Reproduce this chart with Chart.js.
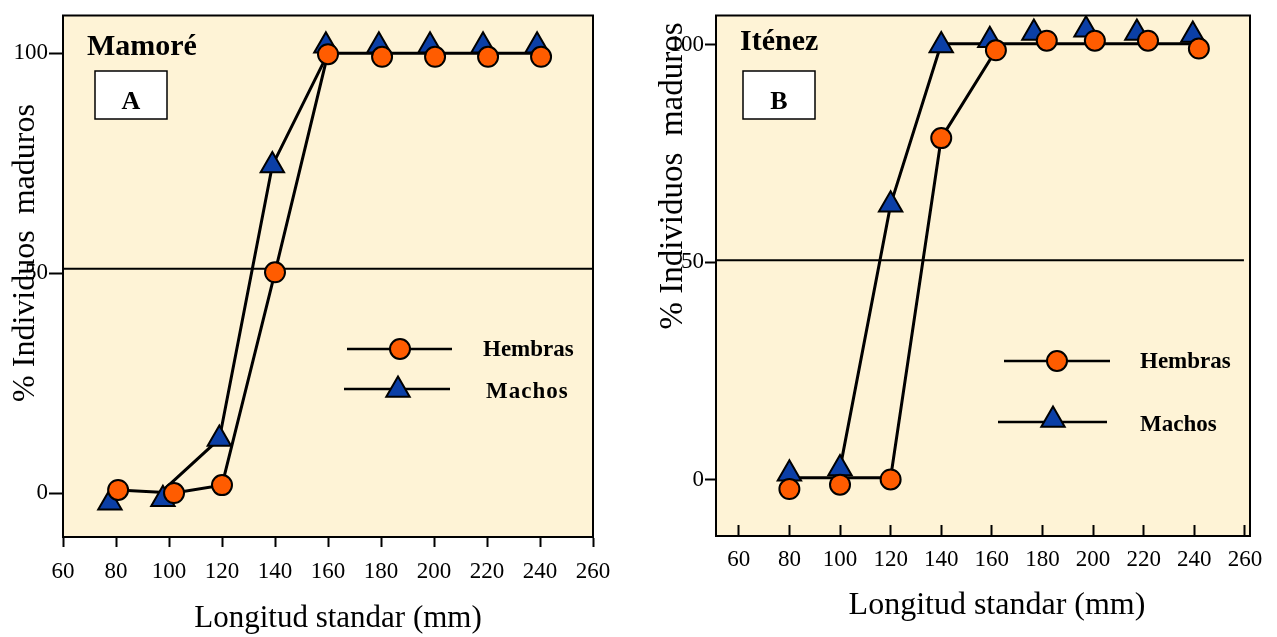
<!DOCTYPE html>
<html>
<head>
<meta charset="utf-8">
<script src="https://cdn.jsdelivr.net/npm/chart.js@4.4.1/dist/chart.umd.min.js"></script>
<style>
  html, body { margin: 0; padding: 0; background: #fff; }
  #wrap { position: relative; width: 1277px; height: 637px; }
  canvas { position: absolute; top: 0; }
</style>
</head>
<body>
<div id="wrap">
  <canvas id="chartA" width="640" height="637" style="left:0"></canvas>
  <canvas id="chartB" width="637" height="637" style="left:640px"></canvas>
</div>
<script>
const xTicks = [60, 80, 100, 120, 140, 160, 180, 200, 220, 240, 260];
const yTicks = [0, 50, 100];
const seriesNames = ['Hembras', 'Machos'];
const xTitle = 'Longitud standar (mm)';
const yTitle = '% Individuos  maduros';

// A - Mamoré
const aHembrasX = [80.8, 101.9, 120, 140, 160, 180.4, 200.4, 220.4, 240.4];
const aHembrasY = [0.7, 0, 1.8, 50.2, 99.8, 99.2, 99.2, 99.2, 99.2];
const aMachosX = [77.7, 97.7, 119, 139, 159.2, 179.2, 198.5, 218.5, 238.9];
const aMachosY = [-2.2, -1.4, 12.3, 74.5, 101.7, 101.7, 101.7, 101.7, 101.7];
const aLineHembrasX = [80.8, 101.9, 120, 140, 160, 240];
const aLineHembrasY = [0.7, 0, 1.8, 50.2, 100, 100];
const aLineMachosX = [98, 119, 139, 160];
const aLineMachosY = [0.7, 12.3, 74.5, 100];
const aRefY = 51;

// B - Iténez
const bHembrasX = [80, 100, 120, 140, 161.6, 181.7, 200.7, 221.7, 241.8];
const bHembrasY = [-2.2, -1.2, 0, 78.5, 98.7, 100.9, 100.9, 100.9, 99.1];
const bMachosX = [80, 100, 120, 140, 159.2, 176.6, 197.2, 217.3, 239.4];
const bMachosY = [1.3, 2.5, 63.2, 99.8, 101, 102.7, 103.4, 102.7, 102.2];
const bLineHembrasX = [80, 120, 140, 161.6];
const bLineHembrasY = [0.4, 0.4, 78.5, 98.7];
const bLineMachosX = [100, 120, 140, 238.3];
const bLineMachosY = [2.5, 63.2, 100.2, 100.2];
const bRefY = 50.4;

const serif = '"Liberation Serif", "Times New Roman", serif';
const cream = '#fef3d6';
const orange = '#ff5c00';
const blue = '#0b3fa6';

function pts(xs, ys) {
    return xs.map((x, i) => ({x: x, y: ys[i]}));
}

const decor = {
    id: 'decor',
    beforeDraw(chart, args, o) {
        const {ctx, chartArea: a} = chart;
        ctx.save();
        ctx.fillStyle = cream;
        ctx.fillRect(a.left, a.top, a.right - a.left, a.bottom - a.top);
        ctx.restore();
    },
    beforeDatasetsDraw(chart, args, o) {
        const {ctx, chartArea: a} = chart;
        ctx.save();
        ctx.strokeStyle = '#000';
        ctx.lineWidth = 2;
        ctx.strokeRect(a.left, a.top, a.right - a.left, a.bottom - a.top);

        ctx.fillStyle = '#000';
        ctx.font = 'bold 30px ' + serif;
        ctx.textBaseline = 'alphabetic';
        ctx.fillText(o.name, o.nameX, o.nameY);

        ctx.fillStyle = '#fff';
        ctx.fillRect(o.box[0], o.box[1], o.box[2], o.box[3]);
        ctx.lineWidth = 1.5;
        ctx.strokeRect(o.box[0], o.box[1], o.box[2], o.box[3]);
        ctx.fillStyle = '#000';
        ctx.font = 'bold 26px ' + serif;
        ctx.textAlign = 'center';
        ctx.fillText(o.letter, o.box[0] + o.box[2] / 2, o.box[1] + 38);

        // x axis title
        ctx.font = o.xTitleSize + 'px ' + serif;
        ctx.textBaseline = 'middle';
        ctx.fillText(xTitle, o.xTitleX, o.xTitleY);

        // y axis title
        ctx.translate(o.yTitleX, o.yTitleY);
        ctx.rotate(-Math.PI / 2);
        ctx.font = o.yTitleSize + 'px ' + serif;
        ctx.fillText(yTitle, 0, 0);
        ctx.restore();
    },
    afterDatasetsDraw(chart, args, o) {
        const ctx = chart.ctx;
        ctx.save();
        o.legend.forEach((item, i) => {
            ctx.strokeStyle = '#000';
            ctx.lineWidth = 2.5;
            ctx.beginPath();
            ctx.moveTo(item.x0, item.y);
            ctx.lineTo(item.x1, item.y);
            ctx.stroke();
            ctx.fillStyle = i === 0 ? orange : blue;
            ctx.lineWidth = 2;
            Chart.helpers.drawPoint(ctx, {
                pointStyle: i === 0 ? 'circle' : 'triangle',
                radius: i === 0 ? 10 : 13.5,
                rotation: 0,
                borderWidth: 2
            }, item.mx, item.my);
            ctx.fillStyle = '#000';
            ctx.font = 'bold 23px ' + serif;
            ctx.textBaseline = 'middle';
            if (ctx.letterSpacing !== undefined) ctx.letterSpacing = item.spacing + 'px';
            ctx.fillText(seriesNames[i], item.tx, item.ty);
            if (ctx.letterSpacing !== undefined) ctx.letterSpacing = '0px';
        });
        ctx.restore();
    }
};

function makeChart(id, p) {
    const markerBase = {showLine: false, borderColor: '#000', borderWidth: 2};
    const lineBase = {showLine: true, pointRadius: 0, borderColor: '#000', borderWidth: 3, fill: false, tension: 0};
    const datasets = [
        Object.assign({label: seriesNames[0], data: pts(p.hX, p.hY), pointStyle: 'circle',
            pointRadius: 10, backgroundColor: orange}, markerBase),
        Object.assign({label: seriesNames[1], data: pts(p.mX, p.mY), pointStyle: 'triangle',
            pointRadius: 13.5, backgroundColor: blue}, markerBase),
        Object.assign({label: 'lh', data: pts(p.lhX, p.lhY)}, lineBase),
        Object.assign({label: 'lm', data: pts(p.lmX, p.lmY)}, lineBase),
        Object.assign({label: 'ref', data: pts([p.xMin, p.refEnd], [p.refY, p.refY])}, lineBase, {borderWidth: 2})
    ];
    return new Chart(document.getElementById(id), {
        type: 'scatter',
        data: {datasets: datasets},
        plugins: [decor],
        options: {
            responsive: false,
            animation: false,
            layout: {padding: {top: p.padTop, right: p.padRight, left: 0, bottom: 0}},
            plugins: {
                legend: {display: false},
                tooltip: {enabled: false},
                decor: p.decor
            },
            scales: {
                x: {
                    type: 'linear',
                    min: p.xMin,
                    max: p.xMax,
                    afterBuildTicks: s => { s.ticks = xTicks.map(v => ({value: v})); },
                    afterFit: s => { s.height = p.xAxisH; s.paddingLeft = 0; s.paddingRight = 0; },
                    grid: {drawOnChartArea: false, color: '#000', tickColor: '#000', tickWidth: 2, tickLength: p.xTickLen},
                    border: {color: '#000', width: 2},
                    ticks: {color: '#000', font: {family: serif, size: 23}, padding: p.xTickPad,
                        maxRotation: 0, autoSkip: false}
                },
                y: {
                    type: 'linear',
                    min: p.yMin,
                    max: p.yMax,
                    afterBuildTicks: s => { s.ticks = yTicks.map(v => ({value: v})); },
                    afterFit: s => { s.width = p.yAxisW; s.paddingTop = 0; s.paddingBottom = 0; },
                    grid: {drawOnChartArea: false, color: '#000', tickColor: '#000', tickWidth: 2, tickLength: p.yTickLen},
                    border: {color: '#000', width: 2},
                    ticks: {color: '#000', font: {family: serif, size: 23}, padding: 1}
                }
            }
        }
    });
}

makeChart('chartA', {
    hX: aHembrasX, hY: aHembrasY, mX: aMachosX, mY: aMachosY,
    lhX: aLineHembrasX, lhY: aLineHembrasY, lmX: aLineMachosX, lmY: aLineMachosY,
    refY: aRefY, refEnd: 260,
    xMin: 60, xMax: 260, yMin: -10, yMax: 108.6,
    padTop: 15, padRight: 47, xAxisH: 100, yAxisW: 63,
    xTickLen: 10, xTickPad: 11, yTickLen: 14,
    decor: {
        name: 'Mamoré', nameX: 87, nameY: 55, letter: 'A', box: [95, 71, 72, 48],
        xTitleX: 338, xTitleY: 619, xTitleSize: 31,
        yTitleX: 26, yTitleY: 253, yTitleSize: 32,
        legend: [
            {x0: 347, x1: 452, y: 349, mx: 400, my: 349, tx: 483, ty: 350, spacing: 0},
            {x0: 344, x1: 450, y: 389, mx: 398, my: 390, tx: 486, ty: 392, spacing: 1}
        ]
    }
});

makeChart('chartB', {
    hX: bHembrasX, hY: bHembrasY, mX: bMachosX, mY: bMachosY,
    lhX: bLineHembrasX, lhY: bLineHembrasY, lmX: bLineMachosX, lmY: bLineMachosY,
    refY: bRefY, refEnd: 259.6,
    xMin: 51, xMax: 262, yMin: -13, yMax: 106.7,
    padTop: 4, padRight: 27, xAxisH: 101, yAxisW: 76,
    xTickLen: -11, xTickPad: 21, yTickLen: 11,
    decor: {
        name: 'Iténez', nameX: 100, nameY: 50, letter: 'B', box: [103, 71, 72, 48],
        xTitleX: 357, xTitleY: 606, xTitleSize: 32,
        yTitleX: 33, yTitleY: 176, yTitleSize: 33,
        legend: [
            {x0: 364, x1: 470, y: 361, mx: 417, my: 361, tx: 500, ty: 362, spacing: 0},
            {x0: 358, x1: 467, y: 422, mx: 413, my: 420, tx: 500, ty: 425, spacing: 0}
        ]
    }
});
</script>
</body>
</html>
